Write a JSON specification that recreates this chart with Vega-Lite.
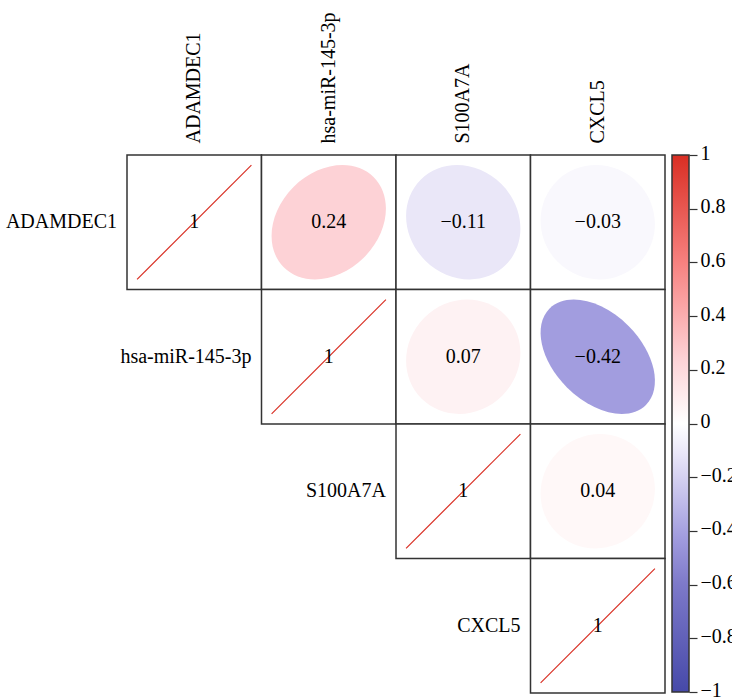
{
  "$schema": "https://vega.github.io/schema/vega-lite/v6.json",
  "padding": {"left": 5, "top": 11, "right": 5, "bottom": 5},
  "bounds": "flush",
  "spacing": 7,
  "config": {"view": {"stroke": null}, "font": "Liberation Serif"},
  "datasets": {
    "cells": [
      {"row": "ADAMDEC1", "col": "ADAMDEC1", "r": 1},
      {"row": "ADAMDEC1", "col": "hsa-miR-145-3p", "r": 0.24},
      {"row": "ADAMDEC1", "col": "S100A7A", "r": -0.11},
      {"row": "ADAMDEC1", "col": "CXCL5", "r": -0.03},
      {"row": "hsa-miR-145-3p", "col": "hsa-miR-145-3p", "r": 1},
      {"row": "hsa-miR-145-3p", "col": "S100A7A", "r": 0.07},
      {"row": "hsa-miR-145-3p", "col": "CXCL5", "r": -0.42},
      {"row": "S100A7A", "col": "S100A7A", "r": 1},
      {"row": "S100A7A", "col": "CXCL5", "r": 0.04},
      {"row": "CXCL5", "col": "CXCL5", "r": 1}
    ],
    "bar": [{"lo": -1, "hi": 1}]
  },
  "hconcat": [
    {
      "width": 538,
      "height": 538,
      "data": {"name": "cells"},
      "encoding": {
        "x": {
          "field": "col", "type": "nominal",
          "scale": {"domain": ["ADAMDEC1", "hsa-miR-145-3p", "S100A7A", "CXCL5"], "paddingInner": 0, "paddingOuter": 0},
          "axis": {"orient": "top", "labelAngle": -90, "ticks": false, "domain": false, "grid": false, "labelPadding": 12, "labelFont": "Liberation Serif", "labelFontSize": 20, "labelColor": "black", "title": null, "labelOverlap": false}
        },
        "y": {
          "field": "row", "type": "nominal",
          "scale": {"domain": ["ADAMDEC1", "hsa-miR-145-3p", "S100A7A", "CXCL5"], "paddingInner": 0, "paddingOuter": 0},
          "axis": null
        }
      },
      "layer": [
        {"mark": {"type": "rect", "fill": "white", "stroke": "#333333", "strokeWidth": 1.5}},
        {
          "transform": [{"filter": "datum.r < 1"}],
          "mark": {"type": "point", "filled": true, "opacity": 1, "size": 72361, "strokeWidth": 0},
          "encoding": {
            "shape": {
              "field": "r", "type": "nominal", "legend": null,
              "scale": {
                "domain": [0.24, -0.11, -0.03, 0.07, -0.42, 0.04],
                "range": [
                  "M0.334643,-0.334643A0.47326,0.370506,-45,0,1,0.261989,0.261989A0.47326,0.370506,-45,0,1,-0.334643,0.334643A0.47326,0.370506,-45,0,1,-0.261989,-0.261989A0.47326,0.370506,-45,0,1,0.334643,-0.334643Z",
                  "M0.283511,-0.283511A0.400944,0.447765,-45,0,1,0.316616,0.316616A0.400944,0.447765,-45,0,1,-0.283511,0.283511A0.400944,0.447765,-45,0,1,-0.316616,-0.316616A0.400944,0.447765,-45,0,1,0.283511,-0.283511Z",
                  "M0.295978,-0.295978A0.418577,0.431328,-45,0,1,0.304996,0.304996A0.418577,0.431328,-45,0,1,-0.295978,0.295978A0.418577,0.431328,-45,0,1,-0.304996,-0.304996A0.418577,0.431328,-45,0,1,0.295978,-0.295978Z",
                  "M0.310861,-0.310861A0.439623,0.409855,-45,0,1,0.289812,0.289812A0.439623,0.409855,-45,0,1,-0.310861,0.310861A0.439623,0.409855,-45,0,1,-0.289812,-0.289812A0.439623,0.409855,-45,0,1,0.310861,-0.310861Z",
                  "M0.228869,-0.228869A0.32367,0.506446,-45,0,1,0.358113,0.358113A0.32367,0.506446,-45,0,1,-0.228869,0.228869A0.32367,0.506446,-45,0,1,-0.358113,-0.358113A0.32367,0.506446,-45,0,1,0.228869,-0.228869Z",
                  "M0.306471,-0.306471A0.433417,0.416413,-45,0,1,0.294448,0.294448A0.433417,0.416413,-45,0,1,-0.306471,0.306471A0.433417,0.416413,-45,0,1,-0.294448,-0.294448A0.433417,0.416413,-45,0,1,0.306471,-0.306471Z"
                ]
              }
            },
            "color": {
              "field": "r", "type": "quantitative", "legend": null,
              "scale": {
                "domain": [-1, -0.6, -0.42, -0.11, 0, 0.24, 0.6, 1],
                "range": ["#4649a9", "#7d79c9", "#a29ddf", "#eae7f8", "#ffffff", "#fdd2d6", "#f7817f", "#d92e23"],
                "interpolate": "rgb"
              }
            }
          }
        },
        {
          "transform": [{"filter": "datum.r == 1"}],
          "mark": {"type": "point", "shape": "M-0.425,0.425L0.425,-0.425", "filled": false, "size": 72361, "stroke": "#d92e23", "strokeWidth": 1.2, "opacity": 1}
        },
        {
          "mark": {"type": "text", "fontSize": 20, "font": "Liberation Serif", "color": "black", "baseline": "middle", "align": "center"},
          "encoding": {"text": {"field": "r", "type": "quantitative", "format": ".2~f"}}
        },
        {
          "transform": [{"filter": "datum.r == 1"}],
          "mark": {"type": "text", "fontSize": 20, "font": "Liberation Serif", "color": "black", "baseline": "middle", "align": "right", "dx": -10},
          "encoding": {
            "x": {
              "field": "col", "type": "nominal", "bandPosition": 0,
              "scale": {"domain": ["ADAMDEC1", "hsa-miR-145-3p", "S100A7A", "CXCL5"], "paddingInner": 0, "paddingOuter": 0},
              "axis": {"orient": "top", "labelAngle": -90, "ticks": false, "domain": false, "grid": false, "labelPadding": 12, "labelFont": "Liberation Serif", "labelFontSize": 20, "labelColor": "black", "title": null, "labelOverlap": false}
            },
            "text": {"field": "row", "type": "nominal"}
          }
        }
      ]
    },
    {
      "width": 17,
      "height": 537,
      "data": {"name": "bar"},
      "mark": {
        "type": "rect", "stroke": "#333333", "strokeWidth": 1.5,
        "fill": {
          "gradient": "linear", "x1": 0, "y1": 1, "x2": 0, "y2": 0,
          "stops": [
            {"offset": 0, "color": "#4649a9"},
            {"offset": 0.2, "color": "#7d79c9"},
            {"offset": 0.29, "color": "#a29ddf"},
            {"offset": 0.445, "color": "#eae7f8"},
            {"offset": 0.5, "color": "#ffffff"},
            {"offset": 0.62, "color": "#fdd2d6"},
            {"offset": 0.8, "color": "#f7817f"},
            {"offset": 1, "color": "#d92e23"}
          ]
        }
      },
      "encoding": {
        "y": {
          "field": "lo", "type": "quantitative",
          "scale": {"domain": [-1, 1], "nice": false, "zero": false},
          "axis": {"orient": "right", "values": [-1, -0.8, -0.6, -0.4, -0.2, 0, 0.2, 0.4, 0.6, 0.8, 1], "format": "~g", "tickSize": 8, "tickColor": "#333333", "tickWidth": 1.2, "domain": false, "grid": false, "labelFont": "Liberation Serif", "labelFontSize": 20, "labelColor": "black", "labelPadding": 3, "labelOffset": -2, "labelFlush": false, "labelOverlap": false, "title": null}
        },
        "y2": {"field": "hi"}
      }
    }
  ]
}
